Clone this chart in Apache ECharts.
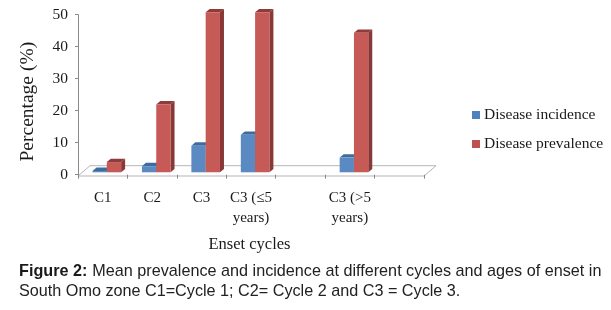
<!DOCTYPE html>
<html><head><meta charset="utf-8">
<style>html,body{margin:0;padding:0;background:#fff}#c{width:611px;height:310px}</style>
<script src="https://cdn.jsdelivr.net/npm/echarts@6/dist/echarts.min.js"></script>
</head><body><div id="c"></div>
<script>
const categories = ['C1','C2','C3','C3 (≤5\nyears)','','C3 (>5\nyears)',''];
const incidence = [0.4,1.9,8.3,11.7,null,4.6,null];
const prevalence = [3.2,21.2,50,50,null,43.6,null];
const SERIF = '"Liberation Serif","Times New Roman",serif';
const chart = echarts.init(document.getElementById('c'));
function bar3d(front, top, side, offset){
  return function(params, api){
    const v = api.value(1);
    if (v == null || isNaN(v)) return null;
    const p = api.coord([api.value(0), v]);
    const b = api.coord([api.value(0), 0]);
    const w = 14.3, dx = 4, dy = 3.4, lift = 2.4;
    const x = p[0] + offset, y = p[1] - lift, y0 = b[1] - lift;
    return {type:'group', children:[
      {type:'polygon', shape:{points:[[x+w,y],[x+w+dx,y-dy],[x+w+dx,y0-dy],[x+w,y0]]}, style:{fill:side}},
      {type:'polygon', shape:{points:[[x,y],[x+dx,y-dy],[x+w+dx,y-dy],[x+w,y]]}, style:{fill:top}},
      {type:'rect', shape:{x:x, y:y, width:w, height:y0-y}, style:{fill:front}}
    ]};
  };
}
chart.setOption({
  animation:false,
  backgroundColor:'#fff',
  grid:{left:78,right:187,top:14.7,bottom:135.3},
  title:{
    left:19, top:262, padding:0,
    text:'{b|Figure 2:} {n|Mean prevalence and incidence at different cycles and ages of enset in}\n{n|South Omo zone C1=Cycle 1; C2= Cycle 2 and C3 = Cycle 3.}',
    textStyle:{fontWeight:'normal',rich:{
      b:{fontFamily:'"Liberation Sans",Arial,sans-serif',fontSize:16.2,fontWeight:'bold',color:'#1a1a1a',lineHeight:20},
      n:{fontFamily:'"Liberation Sans",Arial,sans-serif',fontSize:16.2,fontWeight:'normal',color:'#222',lineHeight:20}
    }}
  },
  legend:{
    orient:'vertical', left:472, top:107, padding:0, itemGap:13,
    itemWidth:8, itemHeight:8, icon:'rect',
    textStyle:{fontFamily:SERIF,fontSize:15.5,color:'#1a1a1a',padding:[0,0,0,-1],lineHeight:16}
  },
  xAxis:{
    type:'category', data:categories, offset:1.4,
    axisLine:{show:false},
    axisTick:{show:true,length:4,lineStyle:{color:'#8a8a8a'}},
    axisLabel:{fontFamily:SERIF,fontSize:15,color:'#1a1a1a',lineHeight:20,margin:12,interval:0},
    name:'Enset cycles', nameLocation:'middle', nameGap:60,
    nameTextStyle:{fontFamily:SERIF,fontSize:16.5,color:'#1a1a1a',padding:[0,0,0,-3]}
  },
  yAxis:{
    type:'value', min:0, max:50, interval:10,
    splitLine:{show:false},
    axisLine:{show:true,lineStyle:{color:'#8a8a8a'}},
    axisTick:{show:true,length:3,lineStyle:{color:'#8a8a8a'}},
    axisLabel:{fontFamily:SERIF,fontSize:15.5,color:'#1a1a1a',margin:10},
    name:'Percentage (%)', nameLocation:'middle', nameGap:40,
    nameTextStyle:{fontFamily:SERIF,fontSize:19.5,color:'#1a1a1a',padding:[0,14,0,0]}
  },
  graphic:[{type:'polygon',z:0,silent:true,
    shape:{points:[[78,176],[90,165.7],[436,165.7],[424,176]]},
    style:{fill:'#fff',stroke:'#b5b5b5',lineWidth:1}}],
  series:[
    {name:'Disease incidence',type:'custom',z:3,itemStyle:{color:'#4f81bd'},
     renderItem:bar3d('#5b8ac3','#3f6c9f','#3f6c9f',-10.2),
     encode:{x:0,y:1},data:incidence.map((v,i)=>[i,v])},
    {name:'Disease prevalence',type:'custom',z:4,itemStyle:{color:'#c0504d'},
     renderItem:bar3d('#c55a57','#8f3b39','#883936',4.1),
     encode:{x:0,y:1},data:prevalence.map((v,i)=>[i,v])}
  ]
});
</script></body></html>
